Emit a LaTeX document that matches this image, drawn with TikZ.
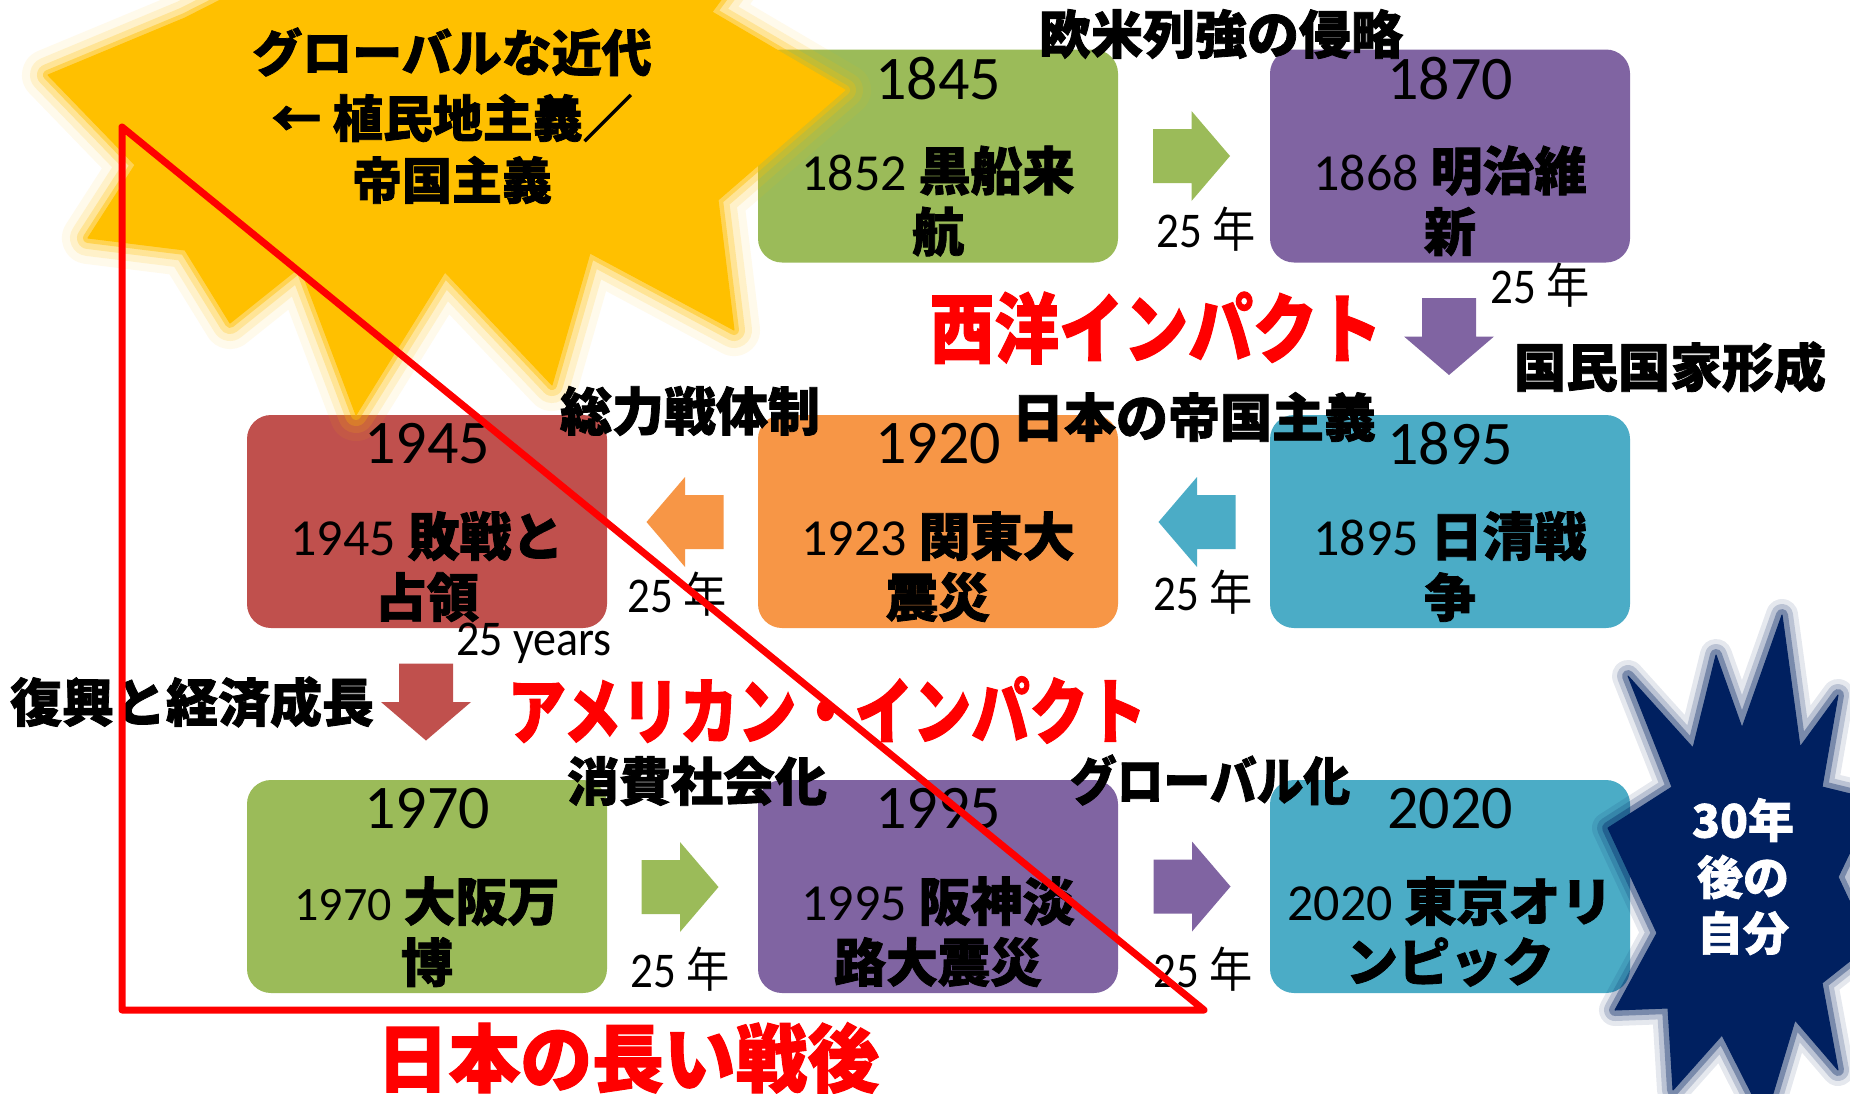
\documentclass[tikz,border=0pt]{standalone}
\usepackage{fontspec}
\setmainfont{Carlito}
\newfontfamily\jp{Noto Sans CJK JP}[BoldFeatures={FakeBold=1.5}]
\definecolor{cgreen}{HTML}{9BBB59}
\definecolor{cpurple}{HTML}{8064A2}
\definecolor{cred}{HTML}{C0504D}
\definecolor{corange}{HTML}{F79646}
\definecolor{cteal}{HTML}{4BACC6}
\definecolor{csun}{HTML}{FFC000}
\definecolor{cnavy}{HTML}{002060}
\definecolor{cbright}{HTML}{FF0000}
\newcommand\fs[1]{\fontsize{#1}{#1}\selectfont}
\newcommand\hs[2]{\scalebox{#1}[1]{#2}}
\newcommand\boxtext[5]{%
  \node[yr] (#1-yr) at ([yshift=-14.5pt]#1.north) {#2};
  \node[ln] (#1-l2) at ([yshift=-60.75pt]#1.north) {\fs{26}#3 \jp\bfseries #4};
  \node[ln] (#1-l3) at ([yshift=-91.25pt]#1.north) {\jp\bfseries\fs{26}#5};
}
\newcommand\blkarrow[5]{%
  \coordinate (#1) at (#2,#3);
  \fill[#5, shift={(#1)}, rotate=#4] (-38.5,-27) -- (0,-27) -- (0,-45) -- (38.5,0) -- (0,45) -- (0,27) -- (-38.5,27) -- cycle;
}
\begin{document}
\begin{tikzpicture}[x=0.5pt, y=-0.5pt,
  tlbox/.style={rounded corners=12pt, minimum width=180pt, minimum height=106.5pt, inner sep=0pt, draw=none},
  yr/.style={font=\fs{31}, inner sep=0pt},
  ln/.style={inner sep=0pt},
  lab/.style={font=\jp\bfseries\fs{26}, inner sep=0pt},
  big/.style={text=cbright, font=\jp\bfseries\fs{38}, inner sep=0pt},
  yrs/.style={font=\fs{25}, inner sep=0pt},
  star/.style={text=white, font=\jp\bfseries\fs{23}, inner sep=0pt}]
\clip (0,0) rectangle (1850,1093);
\fill[white] (0,0) rectangle (1850,1093);

% boxes
\node[tlbox, fill=cgreen]  (b1845) at (938,156) {};
\node[tlbox, fill=cpurple] (b1870) at (1450,156) {};
\node[tlbox, fill=cred]    (b1945) at (427,521.5) {};
\node[tlbox, fill=corange] (b1920) at (938,521.5) {};
\node[tlbox, fill=cteal]   (b1895) at (1450,521.5) {};
\node[tlbox, fill=cgreen]  (b1970) at (427,886.5) {};
\node[tlbox, fill=cpurple] (b1995) at (938,886.5) {};
\node[tlbox, fill=cteal]   (b2020) at (1450,886.5) {};

% navy starburst (over the 2020 box edge)
\foreach \w/\o/\f in {16/0.1/0, 11/0.18/0, 6/0.35/0, 0.5/1/1} {
  \path[draw=cnavy, fill=cnavy, line width=\w pt, draw opacity=\o, fill opacity=\f, line join=round]
    (1782,615) -- (1800,747) -- (1838,695) -- (1822,787) -- (1875,800) -- (1838,877) -- (1870,945) -- (1822,983)
    -- (1838,1070) -- (1795,1020) -- (1765,1120) -- (1722,1035) -- (1673,1090) -- (1668,1008) -- (1615,1010)
    -- (1657,933) -- (1608,828) -- (1672,787) -- (1628,676) -- (1693,748) -- (1716,655) -- (1742,728) -- cycle;
}

% yellow starburst
\foreach \w/\o/\f in {26/0.08/0, 18/0.14/0, 11/0.25/0, 5/0.45/0, 0.5/1/1} {
  \path[draw=csun, fill=csun, line width=\w pt, draw opacity=\o, fill opacity=\f, line join=round]
    (185,18) -- (48,75) -- (135,165) -- (88,238) -- (185,250) -- (230,323) -- (300,267) -- (356,415)
    -- (445,272) -- (552,385) -- (590,253) -- (734,330) -- (718,200) -- (845,90) -- (712,12)
    -- (780,-80) -- (560,-20) -- (400,-100) -- (260,-20) -- cycle;
}

% box texts
\boxtext{b1845}{1845}{1852}{黒船来}{航}
\boxtext{b1870}{1870}{1868}{明治維}{新}
\boxtext{b1945}{1945}{1945}{敗戦と}{占領}
\boxtext{b1920}{1920}{1923}{関東大}{震災}
\boxtext{b1895}{1895}{1895}{日清戦}{争}
\boxtext{b1970}{1970}{{\fs{24}1970}}{大阪万}{博}
\boxtext{b1995}{1995}{1995}{阪神淡}{路大震災}
\boxtext{b2020}{2020}{2020}{東京オリ}{ンピック}

% block arrows
\blkarrow{a1}{1191.5}{156}{0}{cgreen}
\blkarrow{a2}{1449}{336.5}{-90}{cpurple}
\blkarrow{a3}{1197}{522}{180}{cteal}
\blkarrow{a4}{685}{522}{180}{corange}
\blkarrow{a5}{426}{702}{-90}{cred}
\blkarrow{a6}{680}{887}{0}{cgreen}
\blkarrow{a7}{1192}{886.5}{0}{cpurple}

% sun text
\node[lab, font=\jp\bfseries\fs{25}] (s1) at (452,52) {グローバルな近代};
\node[lab, font=\jp\bfseries\fs{25}] (s2) at (452,118) {← 植民地主義／};
\node[lab, font=\jp\bfseries\fs{25}] (s3) at (452,180) {帝国主義};

% labels
\node[lab] (l1) at (1221,34) {欧米列強の侵略};
\node[big] (l2) at (1156,328) {\hs{0.85}{西洋インパクト}};
\node[lab] (l3) at (1670,367) {国民国家形成};
\node[lab] (l4) at (690,411) {総力戦体制};
\node[lab] (l5) at (1194,417) {日本の帝国主義};
\node[lab] (l6) at (192,702) {復興と経済成長};
\node[big, font=\jp\bfseries\fs{36}] (l7) at (827,710) {\hs{0.81}{アメリカン・インパクト}};
\node[lab] (l8) at (697,781) {消費社会化};
\node[lab] (l9) at (1210,780) {\hs{0.9}{グローバル化}};
\node[big, font=\jp\bfseries\fs{37}] (l10) at (628,1058) {\hs{0.97}{日本の長い戦後}};

% year-span labels
\node[yrs] (y1) at (1206,229) {\hs{0.9}{25 {\jp\fs{24}年}}};
\node[yrs] (y2) at (1540,285) {\hs{0.9}{25 {\jp\fs{24}年}}};
\node[yrs] (y3) at (677,594) {\hs{0.9}{25 {\jp\fs{24}年}}};
\node[yrs] (y4) at (1203,592) {\hs{0.9}{25 {\jp\fs{24}年}}};
\node[yrs] (y5) at (680,969) {\hs{0.9}{25 {\jp\fs{24}年}}};
\node[yrs] (y6) at (1203,969) {\hs{0.9}{25 {\jp\fs{24}年}}};
\node[yrs] (y7) at (534,643) {\hs{0.92}{25 years}};

% navy star text
\node[star] (n1) at (1743,820) {30年};
\node[star] (n2) at (1743,877) {後の};
\node[star] (n3) at (1743,933) {自分};

% red triangle
\coordinate (t1) at (122,127);
\coordinate (t2) at (122,1010);
\coordinate (t3) at (1204,1010);
\draw[cbright, line width=3.5pt, line join=round] (t1) -- (t2) -- (t3) -- cycle;
\end{tikzpicture}
\end{document}
